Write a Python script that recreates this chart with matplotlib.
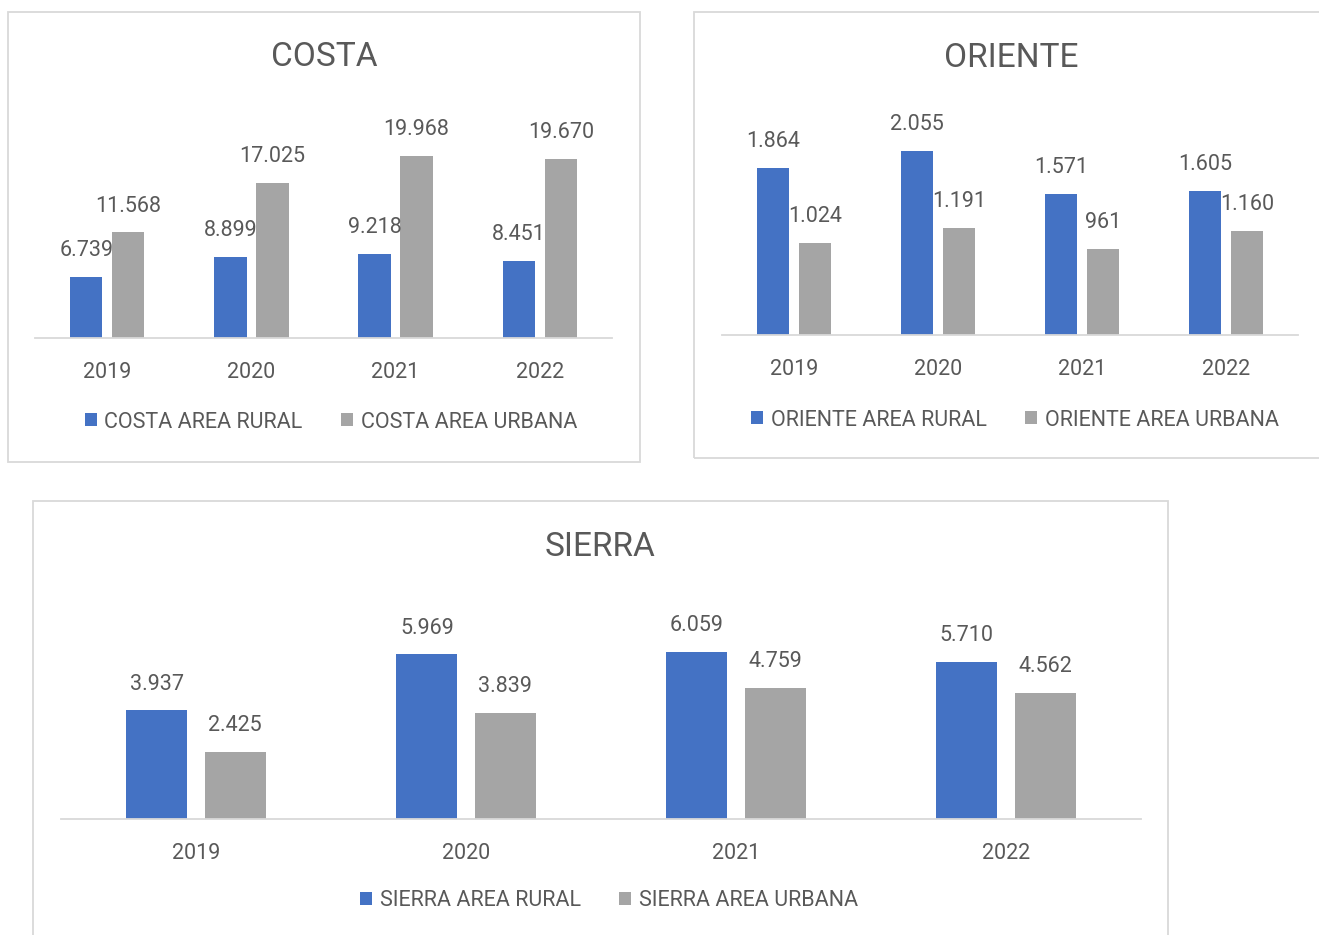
import matplotlib
matplotlib.use("Agg")
import matplotlib.pyplot as plt
from matplotlib.patches import Rectangle, Patch

plt.rcParams['font.family'] = ['Roboto', 'DejaVu Sans']

years = ['2019', '2020', '2021', '2022']
costa_rural = [6739, 8899, 9218, 8451]
costa_urbana = [11568, 17025, 19968, 19670]
oriente_rural = [1864, 2055, 1571, 1605]
oriente_urbana = [1024, 1191, 961, 1160]
sierra_rural = [3937, 5969, 6059, 5710]
sierra_urbana = [2425, 3839, 4759, 4562]

BLUE = '#4472C4'
GRAY = '#A5A5A5'
TXT = '#595959'
LINE = '#D9D9D9'
FS = 15.5

W, H = 1319, 935
fig = plt.figure(figsize=(W / 100, H / 100), dpi=100)
fig.patch.set_facecolor('white')


def fmt(v):
    return f"{v:,}".replace(",", ".")


def border(x0, y0, x1, y1):
    fig.patches.append(Rectangle((x0 / W, 1 - y1 / H), (x1 - x0) / W, (y1 - y0) / H,
                                 fill=False, edgecolor=LINE, lw=1.3,
                                 transform=fig.transFigure, figure=fig))


def panel(x0, y_top, x1, y_base, ymax, rural, urbana, name, title_xy, legend_xy):
    ax = fig.add_axes([x0 / W, 1 - y_base / H, (x1 - x0) / W, (y_base - y_top) / H])
    ax.set_facecolor('none')
    xs = list(range(len(years)))
    bw, off = 0.225, 0.145
    b1 = ax.bar([x - off for x in xs], rural, width=bw, color=BLUE, zorder=2)
    b2 = ax.bar([x + off for x in xs], urbana, width=bw, color=GRAY, zorder=2)
    for bars, vals in ((b1, rural), (b2, urbana)):
        for r, v in zip(bars, vals):
            ax.annotate(fmt(v), (r.get_x() + r.get_width() / 2, v),
                        xytext=(0, 19), textcoords='offset points',
                        ha='center', va='center', fontsize=FS, color=TXT)
    ax.set_xlim(-0.5, len(years) - 0.5)
    ax.set_ylim(0, ymax)
    ax.set_xticks(xs)
    ax.set_xticklabels(years, fontsize=FS, color=TXT)
    ax.tick_params(axis='x', length=0, pad=17)
    ax.set_yticks([])
    for s in ('top', 'left', 'right'):
        ax.spines[s].set_visible(False)
    ax.spines['bottom'].set_color(LINE)
    ax.spines['bottom'].set_linewidth(1.3)
    fig.text(title_xy[0] / W, 1 - title_xy[1] / H, name, ha='center', va='center',
             fontsize=24, color=TXT)
    handles = [Patch(facecolor=BLUE, edgecolor='none'), Patch(facecolor=GRAY, edgecolor='none')]
    fig.legend(handles, [f'{name} AREA RURAL', f'{name} AREA URBANA'],
               loc='center', bbox_to_anchor=(legend_xy[0] / W, 1 - legend_xy[1] / H),
               ncol=2, frameon=False, fontsize=FS, labelcolor=TXT,
               handlelength=0.55, handleheight=0.55, handletextpad=0.35,
               columnspacing=1.8, borderaxespad=0)
    return ax


border(8, 12, 640, 462)
border(694, 12, 1330, 458)
border(33, 501, 1168, 950)

panel(35, 110, 612, 338, 25000, costa_rural, costa_urbana, 'COSTA', (324, 57), (331, 422))
panel(722, 111, 1298, 335, 2500, oriente_rural, oriente_urbana, 'ORIENTE', (1011, 58), (1015, 420))
panel(61, 626, 1141, 819, 7000, sierra_rural, sierra_urbana, 'SIERRA', (600, 547), (609, 901))

fig.savefig('out.png', dpi=100, facecolor='white')
